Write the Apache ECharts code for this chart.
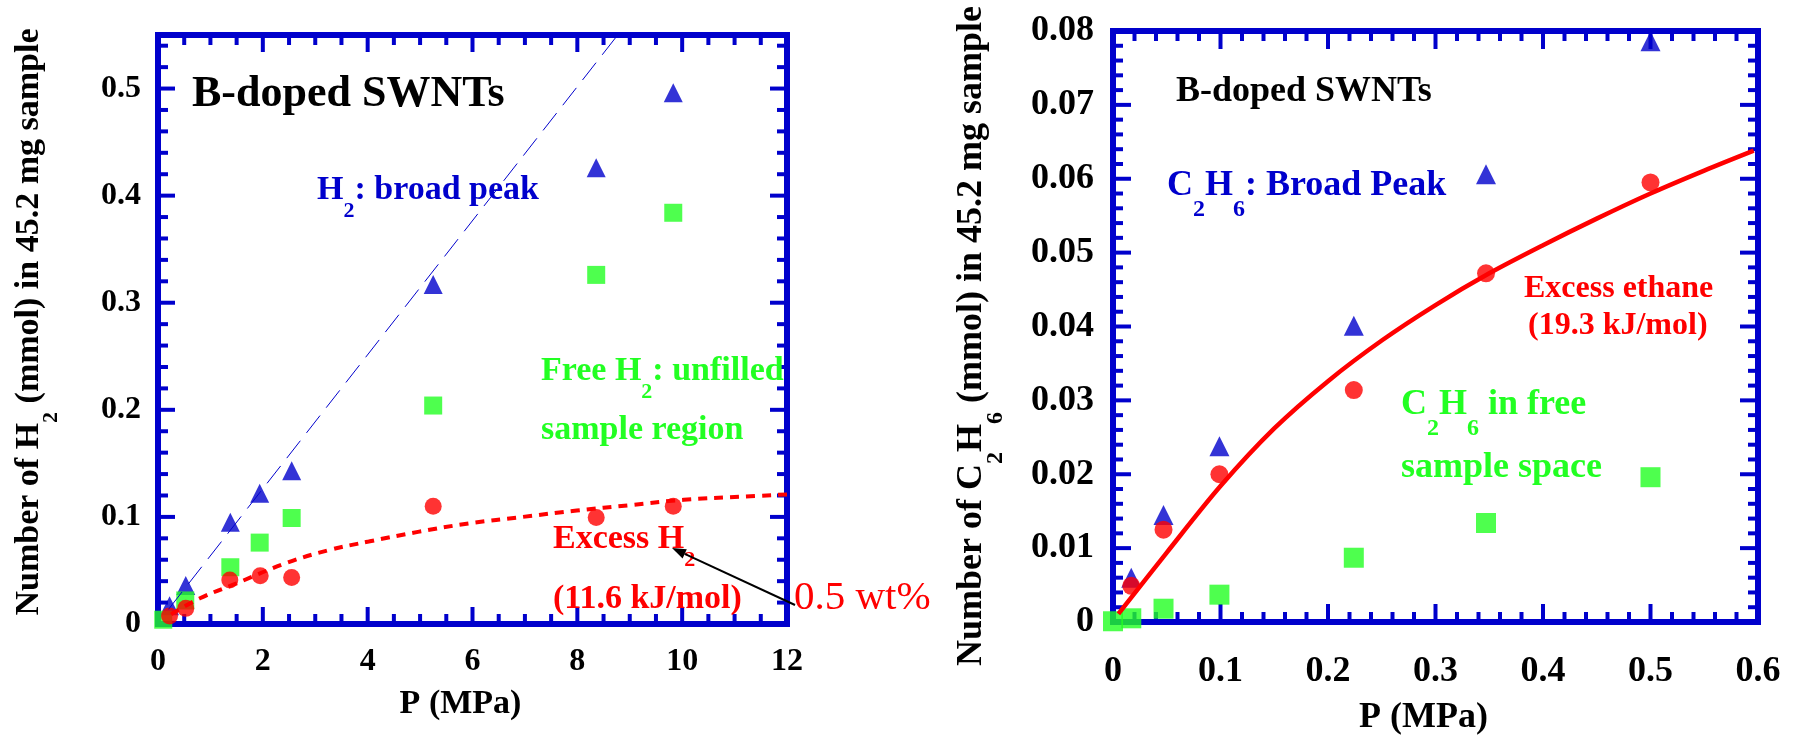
<!DOCTYPE html>
<html>
<head>
<meta charset="utf-8">
<script src="https://cdn.jsdelivr.net/npm/echarts@6/dist/echarts.min.js"></script>
<style>
html, body { margin: 0; padding: 0; background: #fff; }
#main { width: 1797px; height: 742px; }
</style>
</head>
<body>
<div id="main"></div>
<script>
var BLUE = '#0000cc', RED = '#ff0000', GREEN = '#22ff22';
var FONT = "'Liberation Serif', 'Times New Roman', serif";

// left panel: H2 on B-doped SWNTs
var h2LabelValues = [0, 0.1, 0.2, 0.3, 0.4, 0.5];
var h2BroadP = [0.22, 0.53, 1.38, 1.94, 2.55, 5.25, 8.36, 9.83];
var h2BroadN = [0.017, 0.036, 0.095, 0.122, 0.143, 0.317, 0.426, 0.496];
var h2FreeP = [0.10, 0.52, 1.38, 1.94, 2.55, 5.25, 8.36, 9.83];
var h2FreeN = [0.004, 0.022, 0.053, 0.076, 0.099, 0.204, 0.326, 0.384];
var h2ExcessP = [0.22, 0.53, 1.37, 1.95, 2.55, 5.25, 8.36, 9.83];
var h2ExcessN = [0.0075, 0.0146, 0.041, 0.045, 0.0435, 0.110, 0.0995, 0.110];
// dashed guide (broad peak) and excess fit
var h2GuideP = [0.2, 8.77];
var h2GuideN = [0.0137, 0.55];
var h2FitP = [0.25, 0.8, 1.5, 2.45, 3.26, 4.02, 4.96, 5.94, 6.96, 7.99, 9.01, 10.03, 11.18, 12];
var h2FitN = [0.009, 0.024, 0.038, 0.057, 0.069, 0.077, 0.086, 0.094, 0.100, 0.106, 0.111, 0.116, 0.119, 0.121];

// right panel: C2H6 on B-doped SWNTs
var c2BroadP = [0.017, 0.047, 0.099, 0.224, 0.347, 0.500];
var c2BroadN = [0.006, 0.0145, 0.0238, 0.0401, 0.0606, 0.0786];
var c2ExcessP = [0.017, 0.047, 0.099, 0.224, 0.347, 0.500];
var c2ExcessN = [0.0049, 0.0125, 0.0200, 0.0314, 0.0472, 0.0595];
var c2FreeP = [0, 0.017, 0.047, 0.099, 0.224, 0.347, 0.500];
var c2FreeN = [0.0001, 0.0005, 0.0018, 0.0037, 0.0087, 0.0134, 0.0196];
var c2FitP = [0.005, 0.05, 0.1, 0.15, 0.2, 0.25, 0.3, 0.35, 0.4, 0.45, 0.5, 0.55, 0.596];
var c2FitN = [0.0011, 0.0094, 0.0184, 0.0262, 0.0326, 0.0381, 0.0429, 0.0472, 0.0510, 0.0546, 0.0580, 0.0611, 0.0638];

function pairs(xs, ys) {
    return xs.map(function (x, i) { return [x, ys[i]]; });
}

var myChart = echarts.init(document.getElementById('main'));

// one side of the blue frame; the inward ticks are added afterwards
function frameAxis(grid, pos, min, max, step, fontSize, margin) {
    return {
        type: 'value', gridIndex: grid, position: pos,
        min: min, max: max, interval: step,
        axisLine: { show: true, onZero: false, lineStyle: { color: BLUE, width: 6, cap: 'square' } },
        axisTick: { show: false },
        minorTick: { show: false },
        axisLabel: {
            show: pos === 'bottom' || pos === 'left', margin: margin,
            fontFamily: FONT, fontWeight: 'bold', fontSize: fontSize, color: '#000',
            showMinLabel: true, showMaxLabel: true
        },
        splitLine: { show: false }
    };
}

function nameRich(size, subSize, drop) {
    return {
        m: { fontFamily: FONT, fontWeight: 'bold', fontSize: size, lineHeight: size, verticalAlign: 'top', color: '#000' },
        s: { fontFamily: FONT, fontWeight: 'bold', fontSize: subSize, verticalAlign: 'top', padding: [drop, 0, 0, 0], color: '#000' }
    };
}

function gRich(size, subSize, drop, color) {
    return {
        m: { fontFamily: FONT, fontWeight: 'bold', fontSize: size, lineHeight: size, verticalAlign: 'top', fill: color },
        s: { fontFamily: FONT, fontWeight: 'bold', fontSize: subSize, verticalAlign: 'top', padding: [drop, 0, 0, 0], fill: color }
    };
}

function richLabel(x, y, text, size, subSize, drop, color) {
    return {
        type: 'text', x: x, y: y, z: 10,
        style: { text: text, rich: gRich(size, subSize, drop, color), align: 'left', verticalAlign: 'top' }
    };
}

function plainLabel(x, y, text, size, color, weight) {
    return {
        type: 'text', x: x, y: y, z: 10,
        style: {
            text: text, fill: color, fontFamily: FONT, fontWeight: weight || 'bold',
            fontSize: size, align: 'left', verticalAlign: 'middle'
        }
    };
}

function arrow(x1, y1, x2, y2) {
    var dx = x2 - x1, dy = y2 - y1, len = Math.sqrt(dx * dx + dy * dy);
    var ux = dx / len, uy = dy / len, hl = 14, hw = 5;
    var bx = x2 - ux * hl, by = y2 - uy * hl;
    return [
        { type: 'line', z: 10, shape: { x1: x1, y1: y1, x2: bx, y2: by }, style: { stroke: '#000', lineWidth: 2 } },
        { type: 'polygon', z: 10, shape: { points: [[x2, y2], [bx - uy * hw, by + ux * hw], [bx + uy * hw, by - ux * hw]] }, style: { fill: '#000' } }
    ];
}

var xLeft = frameAxis(0, 'bottom', 0, 12, 2, 32, 22);
xLeft.name = 'P (MPa)';
xLeft.nameLocation = 'middle';
xLeft.nameGap = 63;
xLeft.nameTextStyle = { fontFamily: FONT, fontWeight: 'bold', fontSize: 34, color: '#000', padding: [0, 24, 0, 0] };

var yLeft = frameAxis(0, 'left', 0, 0.55, null, 32, 17);
yLeft.axisLabel.customValues = h2LabelValues;
yLeft.name = '{m|Number of H}{s|2}{m| (mmol) in 45.2 mg sample}';
yLeft.nameLocation = 'middle';
yLeft.nameRotate = 90;
yLeft.nameGap = 96;
yLeft.nameTextStyle = { rich: nameRich(34, 22, 28), padding: [0, 0, 0, 15] };

var xRight = frameAxis(1, 'bottom', 0, 0.6, 0.1, 36, 32);
xRight.name = 'P (MPa)';
xRight.nameLocation = 'middle';
xRight.nameGap = 78;
xRight.nameTextStyle = { fontFamily: FONT, fontWeight: 'bold', fontSize: 36, color: '#000', padding: [0, 24, 0, 0] };

var yRight = frameAxis(1, 'left', 0, 0.08, 0.01, 36, 19);
yRight.name = '{m|Number of C}{s|2}{m|H}{s|6}{m| (mmol) in 45.2 mg sample}';
yRight.nameLocation = 'middle';
yRight.nameRotate = 90;
yRight.nameGap = 105;
yRight.nameTextStyle = { rich: nameRich(36, 24, 30), padding: [0, 19, 0, 0] };

var option = {
    animation: false,
    grid: [
        { left: 158, top: 35, width: 629, height: 589 },
        { left: 1113, top: 31, width: 645, height: 591 }
    ],
    xAxis: [
        xLeft,
        frameAxis(0, 'top', 0, 12, 2, 32, 22),
        xRight,
        frameAxis(1, 'top', 0, 0.6, 0.1, 36, 32)
    ],
    yAxis: [
        yLeft,
        frameAxis(0, 'right', 0, 0.55, null, 32, 17),
        yRight,
        frameAxis(1, 'right', 0, 0.08, 0.01, 36, 19)
    ],
    series: [
        {
            name: 'H2 guide', type: 'line', xAxisIndex: 0, yAxisIndex: 0,
            data: pairs(h2GuideP, h2GuideN), symbol: 'none', silent: true,
            lineStyle: { color: BLUE, width: 1, type: [22, 10] }
        },
        {
            name: 'H2 fit', type: 'line', xAxisIndex: 0, yAxisIndex: 0,
            data: pairs(h2FitP, h2FitN), symbol: 'none', smooth: 0.4, silent: true,
            lineStyle: { color: RED, width: 4, type: [9, 7] }
        },
        {
            name: 'H2 broad peak', type: 'scatter', xAxisIndex: 0, yAxisIndex: 0,
            data: pairs(h2BroadP, h2BroadN), symbol: 'triangle', symbolSize: 19,
            itemStyle: { color: BLUE }
        },
        {
            name: 'Free H2', type: 'scatter', xAxisIndex: 0, yAxisIndex: 0,
            data: pairs(h2FreeP, h2FreeN), symbol: 'rect', symbolSize: 18,
            itemStyle: { color: GREEN }
        },
        {
            name: 'Excess H2', type: 'scatter', xAxisIndex: 0, yAxisIndex: 0,
            data: pairs(h2ExcessP, h2ExcessN), symbol: 'circle', symbolSize: 17,
            itemStyle: { color: RED }
        },
        {
            name: 'C2H6 fit', type: 'line', xAxisIndex: 2, yAxisIndex: 2,
            data: pairs(c2FitP, c2FitN), symbol: 'none', smooth: 0.3, silent: true,
            lineStyle: { color: RED, width: 4.5 }
        },
        {
            name: 'C2H6 broad peak', type: 'scatter', xAxisIndex: 2, yAxisIndex: 2,
            data: pairs(c2BroadP, c2BroadN), symbol: 'triangle', symbolSize: 20,
            itemStyle: { color: BLUE }
        },
        {
            name: 'C2H6 free', type: 'scatter', xAxisIndex: 2, yAxisIndex: 2,
            data: pairs(c2FreeP, c2FreeN), symbol: 'rect', symbolSize: 20,
            itemStyle: { color: GREEN }
        },
        {
            name: 'Excess ethane', type: 'scatter', xAxisIndex: 2, yAxisIndex: 2,
            data: pairs(c2ExcessP, c2ExcessN), symbol: 'circle', symbolSize: 18,
            itemStyle: { color: RED }
        }
    ]
};

myChart.setOption(option);

// inward ticks on all four sides, placed through the chart's own scales
function inner(lo, hi, step) {
    var out = [], n = Math.round((hi - lo) / step);
    for (var i = 1; i < n; i++) out.push(+(lo + i * step).toFixed(6));
    if (lo + n * step < hi - 1e-9) out.push(+(lo + n * step).toFixed(6));
    return out;
}
function frameTicks(xi, yi, xr, yr, xMajor, xMinor, yMajor, yMinor, majorLen) {
    var els = [];
    var finder = { xAxisIndex: xi, yAxisIndex: yi };
    function mark(p1, ddx, ddy) {
        els.push({
            type: 'line', silent: true, z: 1,
            shape: { x1: p1[0], y1: p1[1], x2: p1[0] + ddx, y2: p1[1] + ddy },
            style: { stroke: BLUE, lineWidth: 4 }
        });
    }
    inner(xr[0], xr[1], xMinor).forEach(function (v) {
        var isMajor = Math.abs(v / xMajor - Math.round(v / xMajor)) < 1e-6;
        var len = isMajor ? majorLen : 10;
        mark(myChart.convertToPixel(finder, [v, yr[0]]), 0, -len);
        mark(myChart.convertToPixel(finder, [v, yr[1]]), 0, len);
    });
    inner(yr[0], yr[1], yMinor).forEach(function (v) {
        var isMajor = Math.abs(v / yMajor - Math.round(v / yMajor)) < 1e-6;
        var len = isMajor ? majorLen : 10;
        mark(myChart.convertToPixel(finder, [xr[0], v]), len, 0);
        mark(myChart.convertToPixel(finder, [xr[1], v]), -len, 0);
    });
    return els;
}

var tickEls = frameTicks(0, 0, [0, 12], [0, 0.55], 2, 0.5, 0.1, 0.02, 17)
    .concat(frameTicks(2, 2, [0, 0.6], [0, 0.08], 0.1, 0.02, 0.01, 0.002, 18));

var graphics = [
    plainLabel(192, 95, 'B-doped SWNTs', 44, '#000'),
    richLabel(317, 173, '{m|H}{s|2}{m|: broad peak}', 34, 22, 27, BLUE),
    richLabel(541, 354, '{m|Free H}{s|2}{m|: unfilled}', 34, 22, 27, GREEN),
    plainLabel(541, 430, 'sample region', 34, GREEN),
    richLabel(553, 522, '{m|Excess H}{s|2}', 34, 22, 27, RED),
    plainLabel(553, 599, '(11.6 kJ/mol)', 34, RED),
    plainLabel(794, 598, '0.5 wt%', 41, RED, 'normal'),
    plainLabel(1176, 92, 'B-doped SWNTs', 36, '#000'),
    richLabel(1167, 168, '{m|C}{s|2}{m|H}{s|6}{m|: Broad Peak}', 36, 24, 30, BLUE),
    plainLabel(1524, 289, 'Excess ethane', 32, RED),
    plainLabel(1528, 326, '(19.3 kJ/mol)', 32, RED),
    richLabel(1401, 387, '{m|C}{s|2}{m|H}{s|6}{m| in free}', 36, 24, 30, GREEN),
    plainLabel(1401, 468, 'sample space', 36, GREEN)
].concat(arrow(795, 605, 672, 548));

myChart.setOption({ graphic: tickEls.concat(graphics) });
</script>
</body>
</html>
